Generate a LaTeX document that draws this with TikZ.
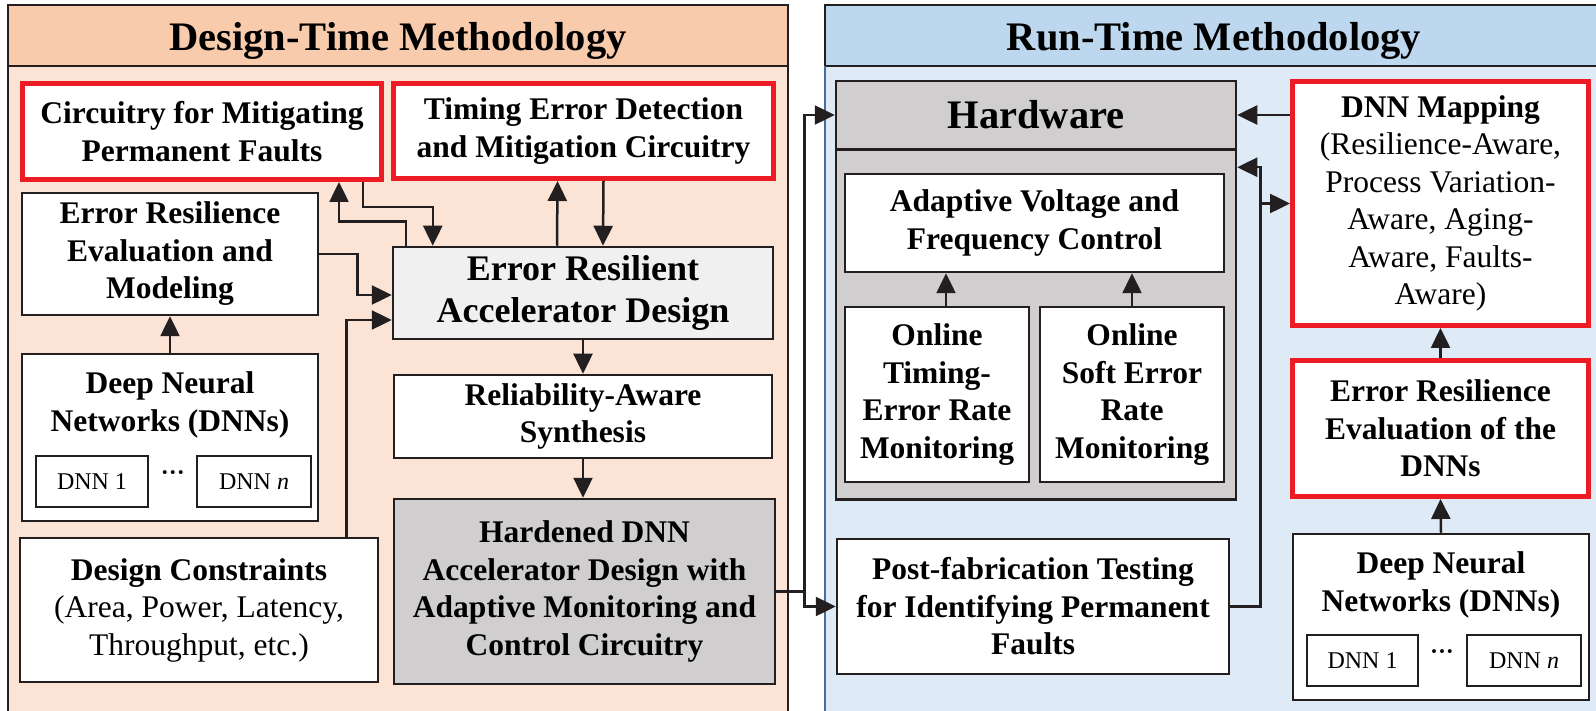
\documentclass[tikz,border=0pt]{standalone}
\usepackage{fontspec}
\setmainfont{Liberation Serif}
\usetikzlibrary{arrows.meta}

\definecolor{linec}{HTML}{231F20}
\definecolor{redc}{HTML}{ED1C24}
\definecolor{peachhead}{HTML}{F8CBAD}
\definecolor{peachbody}{HTML}{FBE4D5}
\definecolor{bluehead}{HTML}{BDD7EE}
\definecolor{bluebody}{HTML}{DEEBF7}
\definecolor{blueedge}{HTML}{41719C}
\definecolor{lightgrey}{HTML}{F0F0F0}
\definecolor{midgrey}{HTML}{D0CECE}

\begin{document}
\begin{tikzpicture}[x=1pt,y=-1pt,
  box/.style={draw=linec, line width=2.5pt, fill=white, align=center, inner sep=0pt,
    font=\fontsize{31.5}{37.5}\selectfont\bfseries},
  plainbox/.style={box, font=\fontsize{31.5}{37.5}\selectfont},
  redbox/.style={draw=redc, line width=5pt},
  dnnbox/.style={draw=linec, line width=2pt, fill=white, inner sep=0pt,
    minimum height=51pt, font=\fontsize{24}{28}\selectfont},
  dots/.style={inner sep=0pt, font=\fontsize{24}{28}\selectfont\bfseries},
  headtext/.style={font=\fontsize{40.5}{46}\selectfont\bfseries},
  wire/.style={draw=linec, line width=2.5pt},
  arr/.style={wire, -{Triangle[length=20pt, width=19pt]}}]
\useasboundingbox (0,0) rectangle (1596,711);

% panels
\filldraw[fill=peachbody, draw=linec, line width=2.5pt] (8,5) rectangle (788,730);
\filldraw[fill=peachhead, draw=linec, line width=2.5pt] (8,5) rectangle (788,66);
\filldraw[fill=bluebody, draw=linec, line width=2.5pt] (825,5) rectangle (1605,730);
\filldraw[fill=bluehead, draw=linec, line width=2.5pt] (825,5) rectangle (1605,66);
\draw[blueedge, line width=2.5pt] (825,66) -- (825,730);
\node[headtext] (dtitle) at (398,41) {Design-Time Methodology};
\node[headtext] (rtitle) at (1214,41) {Run-Time Methodology};

% design-time side
\node[box, redbox, minimum width=359pt, minimum height=96pt] (circ) at (202,131.5)
  {Circuitry for Mitigating\\Permanent Faults};
\node[box, redbox, minimum width=380pt, minimum height=95pt] (timing) at (583.5,131)
  {Timing Error Detection\\and Mitigation Circuitry};
\node[box, minimum width=296pt, minimum height=122pt] (eremod) at (170,254)
  {Error Resilience\\Evaluation and\\Modeling};
\node[box, fill=lightgrey, minimum width=380pt, minimum height=92pt,
  font=\fontsize{36}{42}\selectfont\bfseries] (erad) at (583,293)
  {Error Resilient\\Accelerator Design};
\node[box, minimum width=296pt, minimum height=167pt] (dnnl) at (170,437.5) {};
\node[box, draw=none, fill=none, anchor=north] (dnnltxt) at ([yshift=-18pt]dnnl.north)
  {Deep Neural\\Networks (DNNs)};
\node[dnnbox, minimum width=112pt] (dnnla) at (92,481.5) {DNN 1};
\node[dnnbox, minimum width=114pt] (dnnlb) at (254,481.5) {DNN \textit{n}};
\node[dots] (dnnldots) at (173,476) {···};
\node[plainbox, minimum width=358pt, minimum height=144pt] (cons) at (199,610)
  {\textbf{Design Constraints}\\(Area, Power, Latency,\\Throughput, etc.)};
\node[box, minimum width=378pt, minimum height=83pt] (rel) at (583,416.5)
  {Reliability-Aware\\Synthesis};
\node[box, fill=midgrey, minimum width=381pt, minimum height=185pt] (hard) at (584.5,591.5)
  {Hardened DNN\\Accelerator Design with\\Adaptive Monitoring and\\Control Circuitry};

% run-time side
\node[box, fill=midgrey, minimum width=400pt, minimum height=350pt] (hwbody) at (1036,324.5) {};
\node[box, fill=midgrey, minimum width=400pt, minimum height=68pt,
  font=\fontsize{40.5}{46}\selectfont\bfseries] (hwtitle) at (1036,115) {Hardware};
\node[box, minimum width=379pt, minimum height=98pt] (avfc) at (1034.5,223)
  {Adaptive Voltage and\\Frequency Control};
\node[box, minimum width=184pt, minimum height=175pt] (olt) at (937,394.5)
  {Online\\Timing-\\Error Rate\\Monitoring};
\node[box, minimum width=184pt, minimum height=175pt] (ols) at (1132,394.5)
  {Online\\Soft Error\\Rate\\Monitoring};
\node[box, minimum width=392pt, minimum height=135pt] (post) at (1033,606.5)
  {Post-fabrication Testing\\for Identifying Permanent\\Faults};
\node[plainbox, redbox, minimum width=296pt, minimum height=244pt] (map) at (1440.5,203.5)
  {\textbf{DNN Mapping}\\(Resilience-Aware,\\Process Variation-\\Aware, Aging-\\Aware, Faults-\\Aware)};
\node[box, redbox, minimum width=296pt, minimum height=136pt] (ered) at (1440.5,428.5)
  {Error Resilience\\Evaluation of the\\DNNs};
\node[box, minimum width=296pt, minimum height=166pt] (dnnr) at (1441,617) {};
\node[box, draw=none, fill=none, anchor=north] (dnnrtxt) at ([yshift=-18pt]dnnr.north)
  {Deep Neural\\Networks (DNNs)};
\node[dnnbox, minimum width=111pt] (dnnra) at (1362.5,660.5) {DNN 1};
\node[dnnbox, minimum width=114pt] (dnnrb) at (1524,660.5) {DNN \textit{n}};
\node[dots] (dnnrdots) at (1442,655) {···};

% connectors, design-time
\draw[arr] ([xshift=14pt]erad.north west) -- ++(0,-24) -| ([xshift=-45pt]circ.south east);
\draw[arr] ([xshift=-21pt]circ.south east) -- ++(0,25) -| ([xshift=41pt]erad.north west);
\draw[arr] ([xshift=-26pt]erad.north) -- ([xshift=-26pt]timing.south);
\draw[arr] ([xshift=20pt]timing.south) -- ([xshift=20pt]erad.north);
\draw[arr] (eremod.east) -- ++(38,0) |- ([yshift=-2pt]erad.west);
\draw[arr] ([xshift=-33pt]cons.north east) |- ([yshift=-27pt]erad.west);
\draw[arr] (dnnl.north) -- (eremod.south);
\draw[arr] (erad.south) -- (rel.north);
\draw[arr] (rel.south) -- (rel.south |- hard.north);

% connectors, across and run-time
\draw[wire] (hard.east) -- ++(28,0) coordinate (jn);
\draw[arr] (jn) |- (hwtitle.west);
\draw[arr] (jn) |- (post.west);
\draw[arr] (hwtitle.east -| map.west) -- (hwtitle.east);
\draw[arr] (post.east) -- ++(30,0) coordinate (jr) |- ([yshift=-19pt]hwbody.north east);
\draw[arr] (map.west -| jr) -- (map.west);
\draw[arr] ([xshift=9pt]olt.north) -- ([xshift=9pt]olt.north |- avfc.south);
\draw[arr] (ols.north) -- (ols.north |- avfc.south);
\draw[arr] (ered.north) -- (map.south);
\draw[arr] (dnnr.north) -- (ered.south);
\end{tikzpicture}
\end{document}
